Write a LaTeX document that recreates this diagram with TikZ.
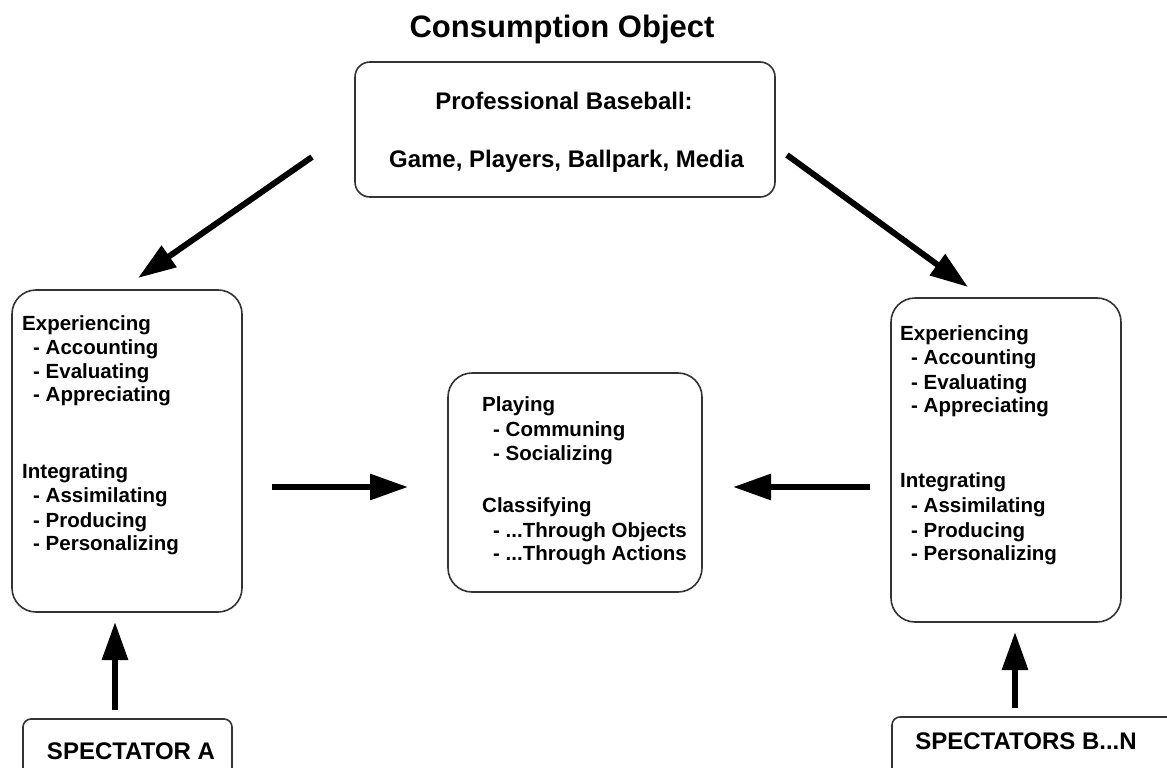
\documentclass[tikz,border=0pt]{standalone}
\usepackage{fontspec}
\setmainfont{Liberation Sans}
\usetikzlibrary{arrows.meta}
\newcommand{\threedots}{...}
\begin{document}
\begin{tikzpicture}[x=1pt,y=-1pt,
  box/.style={draw=black!80, line width=1.6pt, rounded corners=24pt, inner sep=0pt},
  sbox/.style={draw=black!80, line width=1.6pt, rounded corners=15pt, inner sep=0pt},
  bbox/.style={draw=black!80, line width=1.6pt, rounded corners=8pt, inner sep=0pt},
  txt/.style={font=\bfseries\fontsize{20.5}{24}\selectfont, inner sep=0pt, anchor=base west},
  ttl/.style={font=\bfseries\fontsize{24}{28}\selectfont, inner sep=0pt, anchor=base},
  bigarrow/.style={line width=6pt, -{Triangle[length=38pt,width=25pt]}}
]
\clip (0,0) rectangle (1167,768);
\fill[white] (0,0) rectangle (1167,768);

% title
\node[font=\bfseries\fontsize{31}{36}\selectfont, inner sep=0pt, anchor=base] (title) at (562,38) {Consumption Object};

% top box
\node[sbox, minimum width=420pt, minimum height=135pt] (top) at (565,129.5) {};
\node[ttl] (top1) at (564,110) {Professional Baseball:};
\node[ttl] (top2) at (566.5,167) {Game, Players, Ballpark, Media};

% left box
\node[box, minimum width=230pt, minimum height=322pt] (left) at (127,451) {};
\foreach \x/\y/\t [count=\i] in {22/330/Experiencing, 33/354/- Accounting, 33/378/- Evaluating, 33/401/- Appreciating, 22/478/Integrating, 33/502/- Assimilating, 33/527/- Producing, 33/550/- Personalizing}
  \node[txt] (l\i) at (\x,\y) {\t};

% right box
\node[box, minimum width=230pt, minimum height=324pt] (right) at (1006,460) {};
\foreach \x/\y/\t [count=\i] in {900/340/Experiencing, 911/364/- Accounting, 911/389/- Evaluating, 911/412/- Appreciating, 900/487/Integrating, 911/512/- Assimilating, 911/537/- Producing, 911/560/- Personalizing}
  \node[txt] (r\i) at (\x,\y) {\t};

% center box
\node[box, minimum width=254pt, minimum height=219pt] (mid) at (575,482.5) {};
\foreach \x/\y/\t [count=\i] in {482/411/Playing, 493/436/- Communing, 493/460/- Socializing, 482/512/Classifying, 493/537/- \threedots Through Objects, 493/560/- \threedots Through Actions}
  \node[txt] (m\i) at (\x,\y) {\t};

% bottom boxes
\node[bbox, minimum width=209pt, minimum height=90pt] (specA) at (127.5,764) {};
\node[ttl] (specAt) at (131,759) {SPECTATOR A};
\node[bbox, minimum width=308pt, minimum height=90pt] (specB) at (1046,762) {};
\node[ttl] (specBt) at (1026,749) {SPECTATORS B...N};

% arrow coordinates
\coordinate (a1s) at (312,157);
\coordinate (a1e) at (138,278);
\coordinate (a2s) at (787,155);
\coordinate (a2e) at (968,287);
\coordinate (a3s) at (272,487);
\coordinate (a3e) at (408,487);
\coordinate (a4s) at (870,487);
\coordinate (a4e) at (733,487);
\coordinate (a5s) at (115,710);
\coordinate (a5e) at (115,622);
\coordinate (a6s) at (1015,708);
\coordinate (a6e) at (1015,632);

\draw[bigarrow] (a1s) -- (a1e);
\draw[bigarrow] (a2s) -- (a2e);
\draw[bigarrow] (a3s) -- (a3e);
\draw[bigarrow] (a4s) -- (a4e);
\draw[bigarrow] (a5s) -- (a5e);
\draw[bigarrow] (a6s) -- (a6e);
\end{tikzpicture}
\end{document}
